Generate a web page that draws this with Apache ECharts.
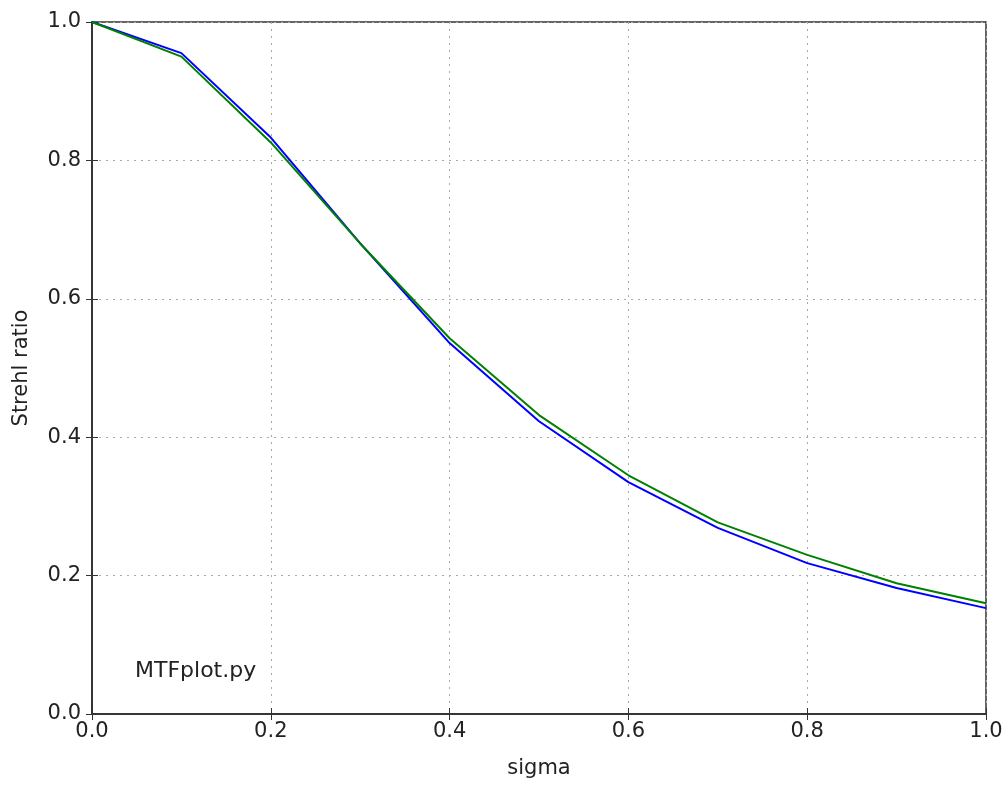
<!DOCTYPE html>
<html>
<head>
<meta charset="utf-8">
<script src="https://cdn.jsdelivr.net/npm/echarts@6/dist/echarts.min.js"></script>
<style>
  html, body { margin: 0; padding: 0; background: #fff; }
  #chart { width: 1008px; height: 786px; }
</style>
</head>
<body>
<div id="chart"></div>
<script>
var sigma = [0.0, 0.1, 0.2, 0.3, 0.4, 0.5, 0.6, 0.7, 0.8, 0.9, 1.0];
var strehlBlue = [1.0, 0.955, 0.833, 0.680, 0.536, 0.423, 0.335, 0.269, 0.218, 0.182, 0.153];
var strehlGreen = [1.0, 0.950, 0.826, 0.680, 0.543, 0.432, 0.345, 0.277, 0.230, 0.189, 0.160];

function pairs(xs, ys) {
    var out = [];
    for (var i = 0; i < xs.length; i++) {
        out.push([xs[i], ys[i]]);
    }
    return out;
}

var chart = echarts.init(document.getElementById('chart'));
var fontFam = 'DejaVu Sans';
var frameColor = '#333';
var option = {
    animation: false,
    backgroundColor: '#fff',
    textStyle: { fontFamily: fontFam },
    grid: {
        left: 92,
        right: 22,
        top: 22,
        bottom: 72,
        show: true,
        borderColor: frameColor,
        borderWidth: 1.5
    },
    xAxis: [
        {
            type: 'value',
            min: 0,
            max: 1,
            interval: 0.2,
            name: 'sigma',
            nameLocation: 'middle',
            nameGap: 44,
            nameTextStyle: { fontSize: 21, color: '#222', fontFamily: fontFam },
            axisLine: { show: true, lineStyle: { color: frameColor, width: 1.5 } },
            axisTick: { show: true, inside: true, length: 6, lineStyle: { color: frameColor } },
            axisLabel: {
                fontSize: 21, color: '#222', margin: 7, fontFamily: fontFam,
                formatter: function (v) { return v.toFixed(1); }
            },
            splitLine: { show: true, lineStyle: { color: '#aaa', type: [2, 5], width: 1 } }
        },
        {
            type: 'value',
            position: 'top',
            min: 0,
            max: 1,
            interval: 0.2,
            axisLine: { show: true, lineStyle: { color: frameColor, width: 1.5 } },
            axisTick: { show: true, inside: true, length: 6, lineStyle: { color: frameColor } },
            axisLabel: { show: false },
            splitLine: { show: false }
        }
    ],
    yAxis: [
        {
            type: 'value',
            min: 0,
            max: 1,
            interval: 0.2,
            name: 'Strehl ratio',
            nameLocation: 'middle',
            nameGap: 60,
            nameTextStyle: { fontSize: 21, color: '#222', fontFamily: fontFam },
            axisLine: { show: true, lineStyle: { color: frameColor, width: 1.5 } },
            axisTick: { show: true, inside: true, length: 6, lineStyle: { color: frameColor } },
            axisLabel: {
                fontSize: 21, color: '#222', margin: 11, fontFamily: fontFam,
                formatter: function (v) { return v.toFixed(1); }
            },
            splitLine: { show: true, lineStyle: { color: '#aaa', type: [2, 5], width: 1 } }
        },
        {
            type: 'value',
            position: 'right',
            min: 0,
            max: 1,
            interval: 0.2,
            axisLine: { show: true, lineStyle: { color: frameColor, width: 1.5 } },
            axisTick: { show: true, inside: true, length: 6, lineStyle: { color: frameColor } },
            axisLabel: { show: false },
            splitLine: { show: false }
        }
    ],
    graphic: [
        {
            type: 'text',
            left: 135,
            top: 660,
            style: {
                text: 'MTFplot.py',
                fontSize: 22,
                fontFamily: fontFam,
                fill: '#222'
            }
        }
    ],
    series: [
        {
            name: 'blue',
            type: 'line',
            data: pairs(sigma, strehlBlue),
            showSymbol: false,
            lineStyle: { color: '#0000ff', width: 2 },
            itemStyle: { color: '#0000ff' },
            z: 3
        },
        {
            name: 'green',
            type: 'line',
            data: pairs(sigma, strehlGreen),
            showSymbol: false,
            lineStyle: { color: '#008000', width: 2 },
            itemStyle: { color: '#008000' },
            z: 4
        }
    ]
};
chart.setOption(option);
</script>
</body>
</html>
